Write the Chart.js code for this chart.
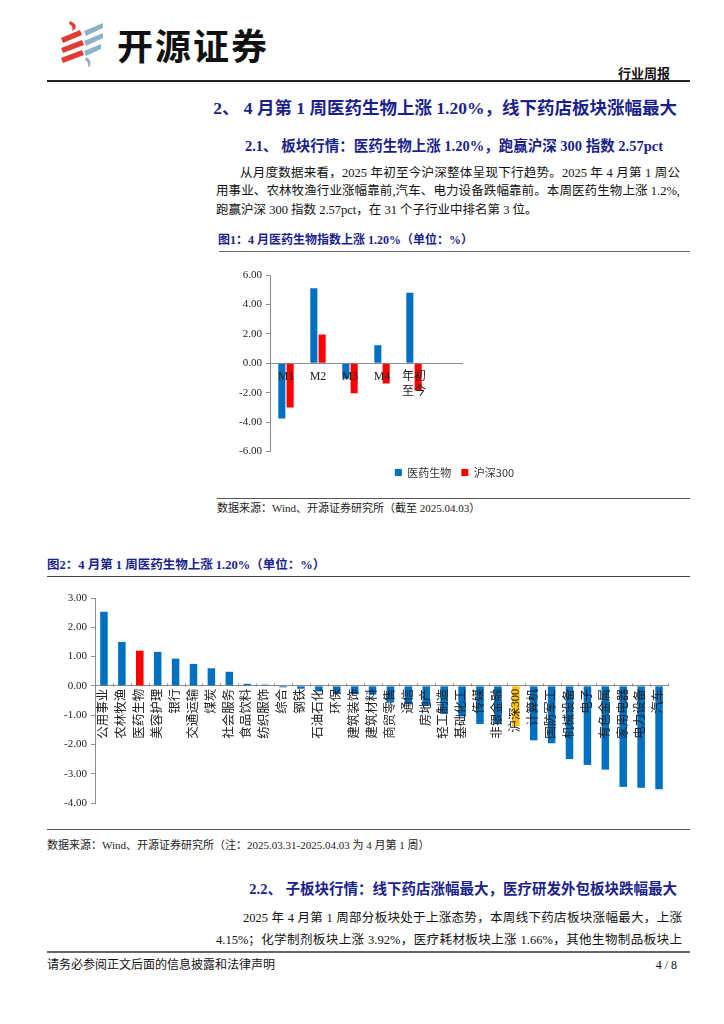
<!DOCTYPE html>
<html><head><meta charset="utf-8">
<script src="https://cdn.jsdelivr.net/npm/chart.js@4/dist/chart.umd.min.js"></script>
<style>
body{margin:0;width:724px;height:1024px;background:#fff;position:relative;overflow:hidden;font-family:"Liberation Serif","Noto Sans CJK SC",serif;color:#111}
.t{position:absolute;white-space:nowrap}
.navy{color:#1b1f8a;font-weight:bold}
.hr{position:absolute;height:0}
.j{text-align:justify;text-align-last:justify}
</style></head>
<body>
<svg style="position:absolute;left:0;top:0" width="110" height="80">
  <g fill="#E03C31">
    <path d="M70 21 Q78 24 75 29 L72 31 Q74 26 69 24 Z"/>
    <polygon points="61,38 80,30 82,35 63,43"/>
    <polygon points="61,48 82,40 84,45 63,53"/>
    <polygon points="61,58 82,50 84,55 63,63"/>
  </g>
  <g fill="#8FB1C6">
    <polygon points="84,31 103,23 103,28 86,36"/>
    <polygon points="84,41 103,33 103,38 86,46"/>
    <polygon points="84,51 101,44 101,49 86,56"/>
    <path d="M86 57 Q92 60 90 66 L88 67 Q89 62 85 60 Z"/>
  </g>
</svg>
<div class="t" style="left:117px;top:22px;font-family:'Noto Sans CJK SC';font-weight:bold;font-size:36px;line-height:44px;letter-spacing:2px;color:#111">开源证券</div>
<div class="t" style="right:54px;top:65px;font-family:'Noto Sans CJK SC';font-weight:bold;font-size:13px;line-height:16px">行业周报</div>
<div class="hr" style="left:47px;width:643px;top:80px;border-top:2px solid #222"></div>

<div class="t navy" style="right:47px;top:98px;font-size:17.5px;line-height:20px">2、 4 月第 1 周医药生物上涨 1.20%，线下药店板块涨幅最大</div>
<div class="t navy" style="right:61px;top:137px;font-size:14.5px;line-height:18px">2.1、 板块行情：医药生物上涨 1.20%，跑赢沪深 300 指数 2.57pct</div>

<div class="t j" style="left:240px;width:440px;top:164px;font-size:12.5px;line-height:18px">从月度数据来看，2025 年初至今沪深整体呈现下行趋势。2025 年 4 月第 1 周公</div>
<div class="t j" style="left:216px;width:464px;top:182px;font-size:12.5px;line-height:18px">用事业、农林牧渔行业涨幅靠前,汽车、电力设备跌幅靠前。本周医药生物上涨 1.2%,</div>
<div class="t" style="left:216px;top:201px;font-size:12.5px;line-height:18px">跑赢沪深 300 指数 2.57pct，在 31 个子行业中排名第 3 位。</div>

<div class="t navy" style="left:218px;top:232px;font-size:12px;line-height:16px">图1：4 月医药生物指数上涨 1.20%（单位：%）</div>
<div class="hr" style="left:219px;width:471px;top:251px;border-top:1.5px solid #666"></div>
<div style="position:absolute;left:219px;top:258px;width:471px;height:240px"><canvas id="c1" width="471" height="240"></canvas></div>
<div class="hr" style="left:217px;width:473px;top:498px;border-top:1px solid #555"></div>
<div class="t" style="left:217px;top:501px;font-size:11px;line-height:14px;color:#222">数据来源：Wind、开源证券研究所（截至 2025.04.03）</div>

<div class="t navy" style="left:47px;top:557px;font-size:12.5px;line-height:16px">图2：4 月第 1 周医药生物上涨 1.20%（单位：%）</div>
<div class="hr" style="left:47px;width:643px;top:576px;border-top:1.5px solid #444"></div>
<div style="position:absolute;left:47px;top:585px;width:643px;height:240px"><canvas id="c2" width="643" height="240"></canvas></div>
<div class="hr" style="left:47px;width:643px;top:829px;border-top:1px solid #555"></div>
<div class="t" style="left:47px;top:838px;font-size:11px;line-height:14px;color:#222">数据来源：Wind、开源证券研究所（注：2025.03.31-2025.04.03 为 4 月第 1 周）</div>

<div class="t navy" style="right:47px;top:880px;font-size:14.5px;line-height:18px">2.2、 子板块行情：线下药店涨幅最大，医疗研发外包板块跌幅最大</div>
<div class="t j" style="left:243px;width:439px;top:909px;font-size:12.5px;line-height:18px">2025 年 4 月第 1 周部分板块处于上涨态势，本周线下药店板块涨幅最大，上涨</div>
<div class="t j" style="left:216px;width:466px;top:931px;font-size:12.5px;line-height:18px">4.15%；化学制剂板块上涨 3.92%，医疗耗材板块上涨 1.66%，其他生物制品板块上</div>
<div class="hr" style="left:47px;width:643px;top:951px;border-top:2px solid #666"></div>
<div class="t" style="left:47px;top:958px;font-size:12px;line-height:15px">请务必参阅正文后面的信息披露和法律声明</div>
<div class="t" style="right:47px;top:958px;font-size:12px;line-height:15px">4 / 8</div>

<script>
// ---- Figure 1 data ----
const monthCategories = ['M1', 'M2', 'M3', 'M4', ['年初', '至今'], ''];
const pharmaMonthly = [-3.75, 5.10, -1.06, 1.22, 4.80, null];
const csi300Monthly = [-3.00, 1.95, -2.04, -1.37, -1.85, null];
const fig1SeriesNames = ['医药生物', '沪深300'];
const fig1YMin = -6, fig1YMax = 6, fig1YStep = 2;

// ---- Figure 2 data ----
const industries = ['公用事业','农林牧渔','医药生物','美容护理','银行','交通运输','煤炭','社会服务','食品饮料','纺织服饰',
  '综合','钢铁','石油石化','环保','建筑装饰','建筑材料','商贸零售','通信','房地产','轻工制造',
  '基础化工','传媒','非银金融','沪深300','计算机','国防军工','机械设备','电子','有色金属','家用电器','电力设备','汽车'];
const weeklyChange = [2.53, 1.50, 1.20, 1.16, 0.93, 0.75, 0.60, 0.48, 0.07, 0.04,
  -0.05, -0.10, -0.19, -0.26, -0.29, -0.30, -0.57, -0.63, -0.68, -0.96,
  -1.04, -1.30, -1.31, -1.37, -1.86, -1.96, -2.50, -2.70, -2.86, -3.45, -3.48, -3.53];
const fig2YMin = -4, fig2YMax = 3, fig2YStep = 1;

const BLUE = '#0070C0', RED = '#FF0000', GOLD = '#FFC000', AXIS = '#8c8c8c';
const numFont = {family: "'Liberation Serif', 'Noto Sans CJK SC'", size: 11};

// invisible layout spacer axis (takes room, draws nothing)
const spacer = (axis, position, size) => ({
  type: 'linear', axis, position, display: true,
  grid: {display: false}, border: {display: false}, ticks: {display: false},
  afterFit: s => { if (axis === 'x') s.height = size; else s.width = size; }
});

new Chart(document.getElementById('c1'), {
  type: 'bar',
  data: {
    labels: monthCategories,
    datasets: [
      {label: fig1SeriesNames[0], data: pharmaMonthly, backgroundColor: BLUE, barPercentage: 0.85, categoryPercentage: 0.52},
      {label: fig1SeriesNames[1], data: csi300Monthly, backgroundColor: RED, barPercentage: 0.85, categoryPercentage: 0.52}
    ]
  },
  options: {
    responsive: false, animation: false,
    layout: {padding: {top: 17, bottom: 10, left: 0, right: 0}},
    plugins: {
      legend: {position: 'bottom', labels: {boxWidth: 7, boxHeight: 7, padding: 10, color: '#333',
        font: {family: "'Noto Sans CJK SC'", size: 11}}},
      tooltip: {enabled: false}
    },
    scales: {
      x: {position: {y: 0},
        grid: {drawOnChartArea: false, drawTicks: false},
        border: {color: AXIS},
        ticks: {z: 1, padding: 6, maxRotation: 0, minRotation: 0, autoSkip: false, color: '#222',
          font: {family: "'Liberation Serif', 'Noto Sans CJK SC'", size: 12, lineHeight: 1.25}}},
      y: {min: fig1YMin, max: fig1YMax,
        ticks: {stepSize: fig1YStep, callback: v => v.toFixed(2), color: '#222', font: numFont, padding: 4},
        grid: {drawOnChartArea: false, tickLength: 4, color: AXIS},
        border: {color: AXIS},
        afterFit: s => { s.width = 51; }},
      padRight: spacer('y', 'right', 228),
      padBottom: spacer('x', 'bottom', 5.5)
    }
  }
});

const upTicks = {
  id: 'upTicks',
  afterDraw(chart) {
    const xs = chart.scales.x, ys = chart.scales.y, ctx = chart.ctx;
    const y0 = Math.round(ys.getPixelForValue(0)) + 0.5;
    const n = chart.data.labels.length, w = xs.width / n;
    ctx.save(); ctx.strokeStyle = AXIS; ctx.lineWidth = 1;
    for (let i = 0; i <= n; i++) {
      const px = Math.round(xs.left + i * w) + 0.5;
      ctx.beginPath(); ctx.moveTo(px, y0); ctx.lineTo(px, y0 - 3); ctx.stroke();
    }
    ctx.restore();
  }
};

new Chart(document.getElementById('c2'), {
  type: 'bar',
  data: {
    labels: industries,
    datasets: [{label: '涨跌幅', data: weeklyChange,
      backgroundColor: industries.map(n => n === '医药生物' ? RED : (n === '沪深300' ? GOLD : BLUE)),
      barPercentage: 0.42, categoryPercentage: 1}]
  },
  options: {
    responsive: false, animation: false,
    layout: {padding: {top: 13, bottom: 22, left: 0, right: 22}},
    plugins: {legend: {display: false}, tooltip: {enabled: false}},
    scales: {
      x: {position: {y: 0},
        grid: {drawOnChartArea: false, drawTicks: false},
        border: {color: AXIS},
        ticks: {z: 1, padding: 3, maxRotation: 90, minRotation: 90, autoSkip: false, color: '#222',
          font: {family: "'Liberation Serif', 'Noto Sans CJK SC'", size: 12.5}}},
      y: {min: fig2YMin, max: fig2YMax,
        ticks: {stepSize: fig2YStep, callback: v => v.toFixed(2), color: '#222', font: numFont, padding: 4},
        grid: {drawOnChartArea: false, tickLength: 4, color: AXIS},
        border: {color: AXIS},
        afterFit: s => { s.width = 48; }}
    }
  },
  plugins: [upTicks]
});
</script>
</body></html>
